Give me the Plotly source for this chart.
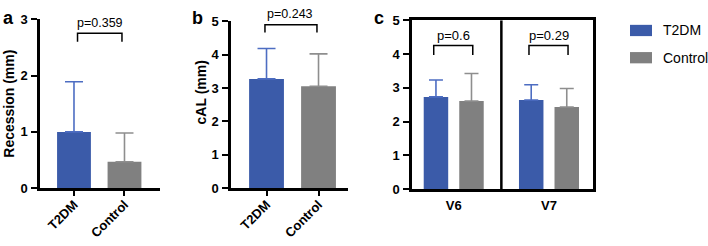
import plotly.graph_objects as go

W, H = 708, 246
def px(x): return x / W
def py(y): return 1 - y / H

# ---------------- data ----------------
groups_ab = ["T2DM", "Control"]
recession_mean = [1.00, 0.47]
recession_sd = [0.89, 0.51]
cal_mean = [3.27, 3.05]
cal_sd = [0.91, 0.97]

teeth = ["V6", "V7"]
c_t2dm_mean = [2.73, 2.64]
c_t2dm_sd = [0.50, 0.45]
c_ctrl_mean = [2.61, 2.43]
c_ctrl_sd = [0.81, 0.55]

p_a = "p=0.359"
p_b = "p=0.243"
p_c = ["p=0.6", "p=0.29"]
legend_names = ["T2DM", "Control"]

# ---------------- styles ----------------
BLUE = "#3B5BA9"
BLUE_ERR = "#4D6DC2"
GRAY = "#808080"
GRAY_ERR = "#8E8E8E"
FONT = "Liberation Sans, Arial, Helvetica, sans-serif"

fig = go.Figure()

def err(sd, color, w):
    return dict(type="data", symmetric=False, array=sd, arrayminus=[0] * len(sd),
                color=color, thickness=1.6, width=w)

# panel a
for i, (g, c, ec) in enumerate(zip(groups_ab, [BLUE, GRAY], [BLUE_ERR, GRAY_ERR])):
    fig.add_trace(go.Bar(x=[g], y=[recession_mean[i]], marker_color=c, marker_line_width=0,
                         width=0.67, offset=-0.335, error_y=err([recession_sd[i]], ec, 9),
                         xaxis="x", yaxis="y", showlegend=False))
# panel b
for i, (g, c, ec) in enumerate(zip(groups_ab, [BLUE, GRAY], [BLUE_ERR, GRAY_ERR])):
    fig.add_trace(go.Bar(x=[g], y=[cal_mean[i]], marker_color=c, marker_line_width=0,
                         width=0.67, offset=-0.335, error_y=err([cal_sd[i]], ec, 9),
                         xaxis="x2", yaxis="y2", showlegend=False))
# panel c
fig.add_trace(go.Bar(x=teeth, y=c_t2dm_mean, name=legend_names[0], marker_color=BLUE, marker_line_width=0,
                     width=0.257, offset=-0.315, error_y=err(c_t2dm_sd, BLUE_ERR, 7),
                     xaxis="x3", yaxis="y3", showlegend=False))
fig.add_trace(go.Bar(x=teeth, y=c_ctrl_mean, name=legend_names[1], marker_color=GRAY, marker_line_width=0,
                     width=0.257, offset=0.058, error_y=err(c_ctrl_sd, GRAY_ERR, 7),
                     xaxis="x3", yaxis="y3", showlegend=False))

tickfont = dict(family=FONT, size=13, color="black", weight="bold")
common_y = dict(showline=True, linewidth=2.5, linecolor="black", ticks="outside", ticklen=6,
                tickwidth=2, tickcolor="black", showgrid=False, zeroline=False, tickfont=tickfont,
                dtick=1, ticklabelstandoff=1)
common_x = dict(showline=True, linewidth=2.5, linecolor="black", showgrid=False, zeroline=False,
                tickfont=tickfont, type="category")

fig.update_layout(
    width=W, height=H, autosize=False,
    margin=dict(l=0, r=0, t=0, b=0),
    paper_bgcolor="white", plot_bgcolor="white",
    barmode="group", showlegend=False,
    xaxis=dict(domain=[px(40), px(160)], range=[-0.673, 1.703], anchor="y",
               ticks="outside", ticklen=5, tickwidth=2, tickcolor="black", tickangle=-45,
               ticklabelstandoff=-4, **common_x),
    yaxis=dict(domain=[py(193), py(13)], range=[0, 3], anchor="x", **common_y),
    xaxis2=dict(domain=[px(231), px(348)], range=[-0.683, 1.567], anchor="y2",
                ticks="outside", ticklen=5, tickwidth=2, tickcolor="black", tickangle=-45,
                ticklabelstandoff=-4, **common_x),
    yaxis2=dict(domain=[py(193), py(15)], range=[0, 5], anchor="x2", **common_y),
    xaxis3=dict(domain=[px(412), px(593)], range=[-0.438, 1.462], anchor="y3", mirror=True,
                ticks="", ticklabelstandoff=2, **common_x),
    yaxis3=dict(domain=[py(194), py(14)], range=[0, 5], anchor="x3", mirror=True, **common_y),
)

shapes = []
annotations = []

def bracket(xref, yref, x0, x1, ytop, ybot):
    shapes.append(dict(type="path", xref=xref, yref=yref,
                       path=f"M {x0},{ybot} L {x0},{ytop} L {x1},{ytop} L {x1},{ybot}",
                       line=dict(color="black", width=1.5)))

pfont = dict(family=FONT, size=12.5, color="black")
bracket("x", "y", 0.07, 0.95, 2.75, 2.6)
annotations.append(dict(xref="paper", yref="paper", x=px(100), y=py(17), text=p_a,
                        xanchor="center", yanchor="middle", showarrow=False, font=pfont))
bracket("x2", "y2", -0.03, 0.97, 4.89, 4.66)
annotations.append(dict(xref="paper", yref="paper", x=px(290), y=py(7), text=p_b,
                        xanchor="center", yanchor="middle", showarrow=False, font=pfont))
for i in range(2):
    bracket("x3", "y3", i - 0.21, i + 0.2, 4.25, 3.97)
    annotations.append(dict(xref="x3", yref="y3", x=i, y=4.56, text=p_c[i], showarrow=False,
                            xanchor="center", yanchor="middle",
                            font=dict(family=FONT, size=13, color="black")))

# divider in panel c
shapes.append(dict(type="line", xref="x3", yref="y3", x0=0.5, x1=0.5, y0=0, y1=5,
                   line=dict(color="black", width=2.5)))

# custom legend
for i, (name, col) in enumerate(zip(legend_names, [BLUE, GRAY])):
    top = 19 + 29 * i
    shapes.append(dict(type="rect", xref="paper", yref="paper", x0=px(630), x1=px(652),
                       y0=py(top + 12), y1=py(top), fillcolor=col, line=dict(width=0)))
    annotations.append(dict(xref="paper", yref="paper", x=px(661), y=py(top + 6), text=name,
                            xanchor="left", yanchor="middle", showarrow=False,
                            font=dict(family=FONT, size=14, color="black")))

# axis titles
tfont = dict(family=FONT, size=14, color="black", weight="bold")
annotations.append(dict(xref="paper", yref="paper", x=px(9), y=py(103), text="Recession (mm)",
                        textangle=-90, xanchor="center", yanchor="middle", showarrow=False, font=tfont))
annotations.append(dict(xref="paper", yref="paper", x=px(201), y=py(91), text="cAL (mm)",
                        textangle=-90, xanchor="center", yanchor="middle", showarrow=False, font=tfont))
# panel letters
lfont = dict(family=FONT, size=18, color="black", weight="bold")
for letter, x in [("a", 8), ("b", 197), ("c", 379)]:
    annotations.append(dict(xref="paper", yref="paper", x=px(x), y=py(12), text=letter,
                            xanchor="center", yanchor="middle", showarrow=False, font=lfont))

fig.update_layout(shapes=shapes, annotations=annotations)
fig.write_html("out.html", config={"displayModeBar": False},
               post_script="document.body.style.margin='0px';document.body.style.overflow='hidden';")
